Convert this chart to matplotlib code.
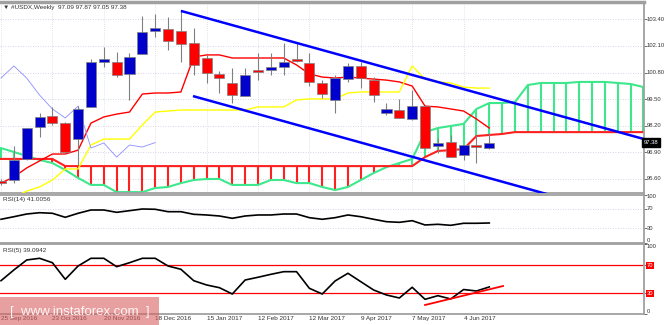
import matplotlib
matplotlib.use('Agg')
import matplotlib.pyplot as plt
from matplotlib.patches import Rectangle

plt.rcParams['font.family'] = ['Liberation Sans', 'DejaVu Sans']

# USDX weekly candles, 25 Sep 2016 .. 18 Jun 2017
opens = [95.47, 95.55, 96.58, 98.14, 98.68, 98.33, 97.55, 99.12, 101.31, 101.31,
         100.73, 101.70, 102.83, 102.93, 102.83, 102.24, 101.51, 100.73, 100.29, 99.65,
         100.92, 100.92, 101.07, 101.46, 101.27, 100.29, 99.46, 100.48, 101.12, 100.43,
         98.82, 98.97, 98.53, 99.16, 97.21, 97.41, 96.77, 97.21, 97.09]
highs = [95.60, 97.21, 98.11, 98.82, 99.12, 98.38, 99.16, 101.46, 102.05, 101.80,
         101.75, 103.56, 103.65, 103.50, 103.82, 102.97, 101.66, 100.87, 101.02, 101.02,
         101.75, 101.75, 102.24, 102.24, 101.75, 100.43, 100.68, 101.27, 101.31, 100.58,
         99.31, 99.51, 99.95, 99.21, 97.60, 97.75, 97.26, 97.75, 97.87]
lows = [95.30, 95.40, 96.53, 97.65, 98.24, 96.87, 96.28, 99.10, 101.07, 100.58,
        99.46, 101.70, 102.54, 101.90, 101.31, 100.68, 100.29, 99.80, 99.31, 99.65,
        100.43, 100.68, 100.68, 101.31, 100.14, 99.56, 98.82, 100.34, 100.04, 99.36,
        98.72, 98.58, 98.48, 97.06, 96.87, 96.67, 96.53, 96.38, 97.05]
closes = [95.42, 96.53, 98.09, 98.63, 98.33, 96.92, 99.02, 101.31, 101.46, 100.68,
          101.56, 102.78, 102.97, 102.34, 102.19, 101.17, 100.78, 100.53, 99.70, 100.68,
          100.83, 101.07, 101.31, 101.36, 100.34, 99.75, 100.53, 101.12, 100.53, 99.70,
          99.02, 98.58, 99.16, 97.11, 97.36, 96.67, 97.26, 97.16, 97.38]

# ichimoku lines
tenkan = [95.40, 95.70, 96.14, 96.48, 96.82, 96.82, 97.01, 98.33, 98.63, 98.77,
          98.87, 99.75, 99.80, 99.80, 99.85, 101.56, 101.66, 101.66, 101.51, 101.51,
          101.51, 101.51, 101.51, 101.17, 100.73, 100.58, 100.53, 100.58, 100.53, 100.48,
          100.43, 100.34, 100.14, 99.16, 99.12, 99.02, 98.92, 98.53, 98.09]
kijun = [94.57, 94.72, 95.01, 95.21, 95.55, 96.09, 96.09, 97.26, 97.55, 97.55,
         97.55, 98.24, 98.87, 98.92, 98.97, 98.97, 98.97, 98.97, 98.97, 98.97,
         99.12, 99.12, 99.12, 99.46, 99.51, 99.51, 99.51, 99.80, 99.85, 99.85,
         99.85, 99.85, 101.12, 100.48, 100.34, 100.29, 100.09, 100.04, 100.04]
# senkou spans, already shifted forward so they run past the last candle
span_a = [97.11, 96.92, 96.72, 96.53, 96.38, 96.04, 95.65, 95.31, 95.31, 94.96,
          94.96, 94.96, 95.16, 95.21, 95.40, 95.55, 95.60, 95.60, 95.31, 95.31,
          95.31, 95.55, 95.55, 95.40, 95.40, 95.21, 95.06, 95.21, 95.55, 95.89,
          96.18, 96.38, 96.58, 97.89, 98.09, 98.19, 98.29, 99.02, 99.31, 99.31,
          99.36, 100.19, 100.29, 100.29, 100.29, 100.34, 100.34, 100.34, 100.29, 100.24,
          100.09, 99.95]
span_b = [96.58, 96.58, 96.58, 96.58, 96.58, 96.23, 96.23, 96.23, 96.23, 96.23,
          96.23, 96.23, 96.23, 96.23, 96.23, 96.23, 96.23, 96.23, 96.23, 96.23,
          96.23, 96.23, 96.23, 96.23, 96.23, 96.23, 96.23, 96.23, 96.23, 96.23,
          96.23, 96.23, 96.23, 96.67, 96.97, 97.01, 97.06, 97.70, 97.75, 97.80,
          97.89, 97.89, 97.89, 97.89, 97.89, 97.89, 97.89, 97.89, 97.89, 97.89,
          97.89, 97.89]

rsi14 = [48.7, 54.0, 59.6, 62.3, 61.1, 52.8, 61.1, 67.9, 67.9, 63.1,
         66.5, 70.0, 69.4, 64.4, 64.4, 59.0, 57.6, 55.5, 50.7, 55.5,
         57.6, 57.6, 59.6, 59.6, 52.0, 48.7, 52.0, 57.6, 54.0, 48.7,
         43.7, 42.4, 45.8, 36.9, 38.3, 36.2, 40.4, 40.4, 41.01]
rsi5 = [48.0, 63.3, 77.6, 80.0, 73.7, 50.0, 69.0, 80.0, 80.0, 68.0,
        73.7, 80.0, 80.0, 69.0, 64.3, 48.0, 41.9, 38.0, 29.0, 49.0,
        52.9, 57.1, 60.9, 60.9, 37.1, 29.0, 47.6, 58.6, 46.6, 34.7,
        27.6, 23.3, 38.6, 21.4, 26.6, 21.9, 35.4, 33.3, 39.09]

date_labels = ['25 Sep 2016', '23 Oct 2016', '20 Nov 2016', '18 Dec 2016', '15 Jan 2017',
               '12 Feb 2017', '12 Mar 2017', '9 Apr 2017', '7 May 2017', '4 Jun 2017']
date_bars = [0, 4, 8, 12, 16, 20, 24, 28, 32, 36]
price_ticks = [103.40, 102.10, 100.80, 99.50, 98.20, 96.90, 95.60]

# trend lines drawn by hand: (bar, value) pairs
channel_top = ([14.0, 50.04], [103.81, 97.55])
channel_bottom = ([14.94, 50.04], [99.65, 93.55])
rsi5_trend = ([33.0, 39.07], [13.3, 40.4])

BULL = '#0000cd'
BEAR = '#ff0000'
KUMO_UP = '#3de88c'
KUMO_DN = '#ff2020'
FRAME = '#a0a0a0'
GRID = '#c8c8dc'
TXT = '#333333'
FS = 4.6
FS_AXIS = 4.2

W, H = 665, 325
fig = plt.figure(figsize=(W / 100, H / 100), dpi=100)


def panel(top, bottom):
    ax = fig.add_axes([0, 1 - bottom / H, 644 / W, (bottom - top) / H])
    ax.set_xlim(-0.078, 50.04)
    for side in ('top', 'bottom', 'right'):
        ax.spines[side].set_color(FRAME)
        ax.spines[side].set_linewidth(1.3)
    ax.spines['left'].set_visible(False)
    ax.set_xticks([])
    ax.tick_params(axis='y', left=False, right=True, labelleft=False, labelright=False,
                   length=2.5, width=0.6, color='#555555', direction='out')
    return ax


def right_label(ax, y, s, va='center'):
    ax.text(1.004, y, s, transform=ax.get_yaxis_transform(), ha='left', va=va,
            fontsize=FS_AXIS, color=TXT, clip_on=False)


def dotted_grid(ax, ys):
    for y in ys:
        ax.axhline(y, color=GRID, lw=0.6, ls=(0, (1, 2)), zorder=0)


# ---- price panel
ax = panel(2, 193)
ax.set_ylim(94.916, 104.245)
ax.spines['top'].set_linewidth(2.5)
ax.set_yticks(price_ticks)
dotted_grid(ax, price_ticks)
for b in date_bars:
    ax.axvline(b, color=GRID, lw=0.5, ls=(0, (1, 2)), zorder=0)
for p in price_ticks:
    right_label(ax, p, f'{p:.2f}')

# kumo: vertical hatch between the two spans
xs = range(len(span_a))
for i in xs:
    a, b = span_a[i], span_b[i]
    ax.vlines(i, min(a, b), max(a, b), color=KUMO_UP if a >= b else KUMO_DN, lw=1.5, zorder=1)
ax.plot(xs, span_a, color=KUMO_UP, lw=1.5, zorder=2)
ax.plot(xs, span_b, color=KUMO_DN, lw=1.5, zorder=2)

bars = range(len(closes))
ax.plot(bars, tenkan, color='#ff0000', lw=1.0, zorder=3)
ax.plot(bars, kijun, color='#ffff00', lw=1.0, zorder=3)
chikou = closes[26:]
ax.plot(range(len(chikou)), chikou, color='#8c8cff', lw=0.6, zorder=3)

# candles
bw = 0.78
for i in bars:
    o, h, l, c = opens[i], highs[i], lows[i], closes[i]
    ax.vlines(i, l, h, color='#808080', lw=0.8, zorder=4)
    lo = min(o, c)
    ht = max(abs(c - o), 0.08)
    ax.add_patch(Rectangle((i - bw / 2, lo), bw, ht, facecolor=BULL if c >= o else BEAR,
                           edgecolor='#808080', lw=0.5, zorder=5))

ax.plot(*channel_top, color='#0000ff', lw=1.8, zorder=6, solid_capstyle='butt')
ax.plot(*channel_bottom, color='#0000ff', lw=1.8, zorder=6, solid_capstyle='butt')

ax.text(1.0, closes[-1], f'{closes[-1]:.2f}', transform=ax.get_yaxis_transform(),
        ha='left', va='center', fontsize=FS_AXIS, color='white', zorder=10, clip_on=False,
        bbox=dict(boxstyle='square,pad=0.3', fc='black', ec='black'))
ax.text(0.004, 0.985,
        '\u25bc #USDX,Weekly  %.2f %.2f %.2f %.2f' % (opens[-1], highs[-1], lows[-1], closes[-1]),
        transform=ax.transAxes, ha='left', va='top', fontsize=FS, color=TXT)

# ---- RSI(14)
ax14 = panel(194.5, 242.8)
ax14.set_ylim(0, 100)
ax14.set_yticks([0, 30, 70, 100])
dotted_grid(ax14, [30, 70])
ax14.plot(bars, rsi14, color='black', lw=1.2)
right_label(ax14, 100, '100', va='top')
right_label(ax14, 70, '70')
right_label(ax14, 30, '30')
right_label(ax14, 0, '0', va='bottom')
ax14.text(0.004, 0.95, 'RSI(14) %.4f' % 41.0056, transform=ax14.transAxes,
          ha='left', va='top', fontsize=FS, color=TXT)

# ---- RSI(5)
ax5 = panel(244.3, 314.3)
ax5.set_ylim(0, 100)
ax5.set_yticks([0, 30, 70, 100])
for lvl in (30, 70):
    ax5.axhline(lvl, color='#ff0000', lw=0.9, zorder=1)
ax5.plot(bars, rsi5, color='black', lw=1.2, zorder=3)
ax5.plot(*rsi5_trend, color='#ff0000', lw=1.3, zorder=4)
right_label(ax5, 100, '100', va='top')
right_label(ax5, 0, '0', va='bottom')
for lvl in (70, 30):
    ax5.text(1.004, lvl, str(lvl), transform=ax5.get_yaxis_transform(), ha='left',
             va='center', fontsize=FS_AXIS, color='white', clip_on=False,
             bbox=dict(boxstyle='square,pad=0.15', fc='#ff0000', ec='none'))
ax5.text(0.004, 0.95, 'RSI(5) %.4f' % 39.0942, transform=ax5.transAxes,
         ha='left', va='top', fontsize=FS, color=TXT)

for b, lab in zip(date_bars, date_labels):
    ax5.text(b, -0.055, lab, transform=ax5.get_xaxis_transform(), ha='left', va='center',
             fontsize=FS, color=TXT, clip_on=False)

# watermark
fig.patches.append(Rectangle((0, 0), 159 / W, 28 / H, transform=fig.transFigure,
                             facecolor='#d96060', alpha=0.6, edgecolor='none', zorder=5))
fig.text(80 / W, 13 / H, '[  www.instaforex.com  ]', ha='center', va='center',
         fontsize=9.5, color='white', alpha=0.9, zorder=6)

fig.savefig('out.png', dpi=100, facecolor='white')
